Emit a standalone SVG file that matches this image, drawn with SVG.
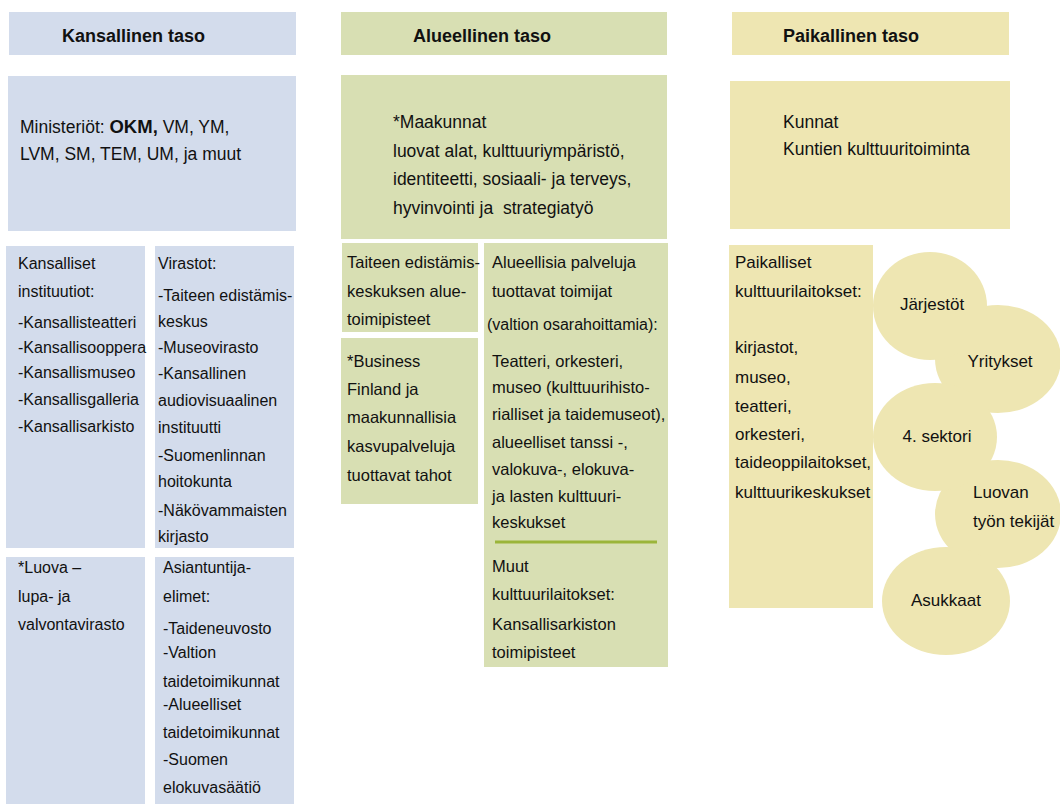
<svg xmlns="http://www.w3.org/2000/svg" width="1060" height="804" viewBox="0 0 1060 804">
<style>
text{font-family:"Liberation Sans",Arial,sans-serif;fill:#111}
.t{font-size:18px;font-weight:bold}
.b{font-size:17.5px}
.c{font-size:16px}
.g{font-size:16.5px}
.y{font-size:17px}
.k{fill:#d3dcec}
.gr{fill:#d8dfb3}
.ye{fill:#eee6b2}
.m{text-anchor:middle}
</style>
<rect width="1060" height="804" fill="#fff"/>
<g id="kansallinen-header"><rect class="k" x="9" y="12" width="287" height="43"/><text class="t" x="62" y="42">Kansallinen taso</text></g>
<g id="ministeriot"><rect class="k" x="8" y="76" width="288" height="155"/>
<text class="b" x="20" y="133">Ministeriöt: <tspan font-weight="bold" font-size="18.5">OKM,</tspan> VM, YM,</text>
<text class="b" x="20" y="160">LVM, SM, TEM, UM, ja muut</text></g>
<g id="kansalliset-instituutiot"><rect class="k" x="6" y="246" width="139" height="302"/>
<text class="c" x="18"><tspan x="18" y="269">Kansalliset</tspan><tspan x="18" y="297">instituutiot:</tspan><tspan x="18" y="328">-Kansallisteatteri</tspan><tspan x="18" y="353">-Kansallisooppera</tspan><tspan x="18" y="378">-Kansallismuseo</tspan><tspan x="18" y="405">-Kansallisgalleria</tspan><tspan x="18" y="432">-Kansallisarkisto</tspan></text></g>
<g id="virastot"><rect class="k" x="155" y="246" width="139" height="302"/>
<text class="c"><tspan x="158" y="269">Virastot:</tspan><tspan x="158" y="301">-Taiteen edistämis-</tspan><tspan x="158" y="327">keskus</tspan><tspan x="158" y="353">-Museovirasto</tspan><tspan x="158" y="379">-Kansallinen</tspan><tspan x="158" y="406">audiovisuaalinen</tspan><tspan x="158" y="433">instituutti</tspan><tspan x="158" y="461">-Suomenlinnan</tspan><tspan x="158" y="487">hoitokunta</tspan><tspan x="158" y="516">-Näkövammaisten</tspan><tspan x="158" y="542">kirjasto</tspan></text></g>
<g id="luova"><rect class="k" x="6" y="557" width="139" height="247"/>
<text class="c"><tspan x="18" y="573">*Luova –</tspan><tspan x="18" y="602">lupa- ja</tspan><tspan x="18" y="630">valvontavirasto</tspan></text></g>
<g id="asiantuntijaelimet"><rect class="k" x="155" y="557" width="139" height="247"/>
<text class="c"><tspan x="163" y="573">Asiantuntija-</tspan><tspan x="163" y="602">elimet:</tspan><tspan x="163" y="634">-Taideneuvosto</tspan><tspan x="163" y="658">-Valtion</tspan><tspan x="163" y="687">taidetoimikunnat</tspan><tspan x="163" y="710">-Alueelliset</tspan><tspan x="163" y="738">taidetoimikunnat</tspan><tspan x="163" y="765">-Suomen</tspan><tspan x="163" y="793">elokuvasäätiö</tspan></text></g>

<g id="alueellinen-header"><rect class="gr" x="341" y="12" width="326" height="43"/><text class="t" x="413" y="42">Alueellinen taso</text></g>
<g id="maakunnat"><rect class="gr" x="341" y="75" width="326" height="164"/>
<text class="b"><tspan x="393" y="128">*Maakunnat</tspan><tspan x="393" y="157">luovat alat, kulttuuriympäristö,</tspan><tspan x="393" y="185">identiteetti, sosiaali- ja terveys,</tspan><tspan x="393" y="214">hyvinvointi ja&#160; strategiatyö</tspan></text></g>
<g id="taiteen-aluetoimipisteet"><rect class="gr" x="342" y="243" width="136" height="89"/>
<text class="g"><tspan x="347" y="268">Taiteen edistämis-</tspan><tspan x="347" y="297">keskuksen alue-</tspan><tspan x="347" y="325">toimipisteet</tspan></text></g>
<g id="business-finland"><rect class="gr" x="341" y="338" width="137" height="166"/>
<text class="g"><tspan x="347" y="367">*Business</tspan><tspan x="347" y="395">Finland ja</tspan><tspan x="347" y="423">maakunnallisia</tspan><tspan x="347" y="452">kasvupalveluja</tspan><tspan x="347" y="481">tuottavat tahot</tspan></text></g>
<g id="alueelliset-palvelut"><rect class="gr" x="484" y="243" width="184" height="424"/>
<text class="g"><tspan x="492" y="268">Alueellisia palveluja</tspan><tspan x="492" y="297">tuottavat toimijat</tspan><tspan x="487" y="330" font-size="16">(valtion osarahoittamia):</tspan><tspan x="492" y="367">Teatteri, orkesteri,</tspan><tspan x="492" y="393">museo (kulttuurihisto-</tspan><tspan x="492" y="420">rialliset ja taidemuseot),</tspan><tspan x="492" y="448">alueelliset tanssi -,</tspan><tspan x="492" y="475">valokuva-, elokuva-</tspan><tspan x="492" y="502">ja lasten kulttuuri-</tspan><tspan x="492" y="528">keskukset</tspan><tspan x="492" y="572">Muut</tspan><tspan x="492" y="600">kulttuurilaitokset:</tspan><tspan x="492" y="630">Kansallisarkiston</tspan><tspan x="492" y="658">toimipisteet</tspan></text>
<line x1="495" y1="542" x2="657" y2="542" stroke="#9bb53a" stroke-width="3"/></g>

<g id="paikallinen-header"><rect class="ye" x="732" y="12" width="277" height="43"/><text class="t" x="783" y="42">Paikallinen taso</text></g>
<g id="kunnat"><rect class="ye" x="730" y="81" width="280" height="148"/>
<text class="b"><tspan x="783" y="128">Kunnat</tspan><tspan x="783" y="155">Kuntien kulttuuritoiminta</tspan></text></g>
<g id="paikalliset-laitokset"><rect class="ye" x="729" y="245" width="144" height="363"/>
<text class="y"><tspan x="735" y="268">Paikalliset</tspan><tspan x="735" y="297">kulttuurilaitokset:</tspan><tspan x="735" y="353">kirjastot,</tspan><tspan x="735" y="383">museo,</tspan><tspan x="735" y="412">teatteri,</tspan><tspan x="735" y="440">orkesteri,</tspan><tspan x="735" y="468">taideoppilaitokset,</tspan><tspan x="735" y="498">kulttuurikeskukset</tspan></text></g>
<g id="yritykset"><ellipse class="ye" cx="998" cy="359" rx="63" ry="54"/><text class="y m" x="1000" y="367">Yritykset</text></g>
<g id="jarjestot"><ellipse class="ye" cx="930" cy="306" rx="57" ry="54"/><text class="y m" x="932" y="310">Järjestöt</text></g>
<g id="luovan-tyon-tekijat"><ellipse class="ye" cx="998" cy="514" rx="63" ry="54"/><text class="y"><tspan x="973" y="498">Luovan</tspan><tspan x="973" y="527">työn tekijät</tspan></text></g>
<g id="sektori4"><ellipse class="ye" cx="935" cy="437" rx="62" ry="54"/><text class="y m" x="937" y="442">4. sektori</text></g>
<g id="asukkaat"><ellipse class="ye" cx="946" cy="601" rx="64" ry="54"/><text class="y m" x="946" y="606">Asukkaat</text></g>
<g id="connectors"/>
</svg>
